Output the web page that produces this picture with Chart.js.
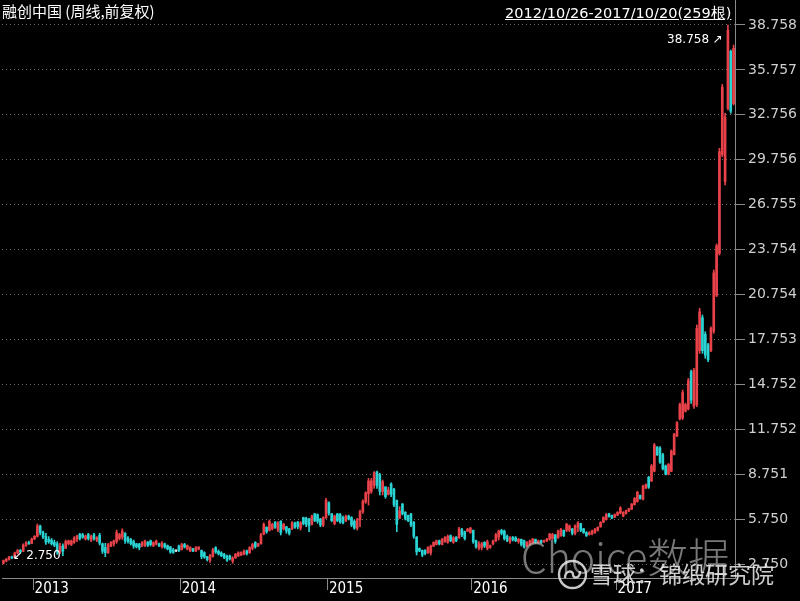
<!DOCTYPE html>
<html>
<head>
<meta charset="utf-8">
<title>融创中国 周线</title>
<script src="https://cdn.jsdelivr.net/npm/chart.js@4.4.0/dist/chart.umd.min.js"></script>
<style>
  html, body { margin: 0; padding: 0; background: #000; }
  #box { position: relative; width: 800px; height: 601px; overflow: hidden; background: #000; }
  #kline { position: absolute; left: 0; top: 0; }
  .txt { position: absolute; white-space: nowrap; pointer-events: none; line-height: 1; }
  #title { left: 2px; top: 3px; color: #fff; font-size: 15px; font-family: "Noto Sans CJK SC", sans-serif; }
  #range { left: 505px; top: 6px; color: #fff; font-size: 14.5px; font-family: "DejaVu Sans", sans-serif; text-decoration: underline; }
  #wm1 { left: 521px; top: 535px; color: rgba(200,200,200,0.6); font-size: 41px; font-weight: 300; font-family: "Noto Sans CJK SC", sans-serif; }
  #wm2 { left: 590px; top: 562px; color: rgba(240,240,240,0.85); font-size: 23px; font-family: "Noto Sans CJK SC", sans-serif; }
  #logo { position: absolute; left: 557px; top: 559px; }
</style>
</head>
<body>
<div id="box">
  <canvas id="kline" width="800" height="601"></canvas>
  <div class="txt" id="title">融创中国 (周线,前复权)</div>
  <div class="txt" id="range">2012/10/26-2017/10/20(259根)</div>
  <div class="txt" id="wm1">Choice数据</div>
  <svg id="logo" width="31" height="31" viewBox="0 0 31 31">
    <circle cx="15.5" cy="15.5" r="13.5" fill="none" stroke="rgba(235,235,235,0.85)" stroke-width="2.4"/>
    <path d="M8 19 C8 11 16 11 16 15.5 C16 20 23 20 23 12" fill="none" stroke="rgba(235,235,235,0.85)" stroke-width="2.4"/>
  </svg>
  <div class="txt" id="wm2">雪球：锦缎研究院</div>
</div>
<script>
// weekly candles, 2012/10/26 - 2017/10/20 (259 weeks)
const opens = [
  2.80,2.95,3.05,3.22,3.18,3.48,3.66,3.60,4.00,4.18,4.12,4.42,4.60,5.28,4.88,4.60,4.40,4.35,4.20,4.10,3.55,3.95,3.80,4.10,4.05,4.20,4.40,4.75,4.70,4.42,4.72,4.35,4.70,4.35,4.68,
  4.10,3.85,3.50,3.95,4.10,4.25,4.45,4.55,4.80,4.50,4.40,4.25,4.10,4.08,3.95,4.00,4.20,4.30,3.98,4.08,4.10,3.90,4.10,3.98,3.90,3.70,3.62,3.95,3.72,4.05,3.75,3.62,3.78,3.62,3.75,
  3.65,3.50,3.24,3.00,3.25,3.85,3.60,3.50,3.40,3.30,3.28,2.95,3.15,3.30,3.35,3.40,3.62,3.50,3.80,4.20,3.95,4.10,4.75,5.20,5.00,5.10,5.55,5.05,5.60,5.10,5.24,5.10,5.10,5.50,5.55,5.15,
  5.85,5.80,5.75,5.40,6.10,6.05,5.75,5.35,5.85,6.85,6.10,5.45,6.10,6.05,5.85,5.65,5.95,5.85,5.60,5.15,5.70,6.25,6.90,7.45,7.60,8.00,8.90,8.70,7.60,7.90,7.40,8.10,7.75,7.00,5.80,
  6.75,6.20,6.00,6.10,5.55,4.55,3.80,3.65,3.65,3.50,3.50,3.95,4.05,4.30,4.05,4.25,4.20,4.65,4.20,4.55,4.50,5.05,4.90,4.95,4.85,5.00,4.30,3.80,3.85,4.20,3.80,3.85,4.10,4.30,4.55,5.00,
  4.95,4.60,4.25,4.55,4.50,4.25,4.40,4.30,3.95,4.05,4.15,4.40,4.15,4.32,4.22,4.30,4.40,4.45,4.70,4.50,4.65,5.00,5.00,5.00,5.10,4.80,5.20,5.45,5.10,4.85,4.70,4.78,4.85,5.00,5.24,
  5.55,5.72,6.10,5.98,5.88,6.02,6.15,5.95,6.12,6.30,6.42,6.72,6.92,7.34,7.08,7.82,8.55,8.30,8.95,10.55,10.50,10.05,9.30,8.75,8.95,10.05,11.30,
  12.45,12.50,12.95,13.10,15.60,13.30,13.40,17.00,19.20,18.10,17.40,17.00,18.30,20.70,23.50,30.10,28.30,33.20,37.00,33.50
];
const highs = [
  3.02,3.12,3.26,3.28,3.55,3.72,3.72,4.10,4.25,4.28,4.48,4.65,5.42,5.35,4.95,4.80,4.58,4.46,4.35,4.24,4.13,4.10,4.35,4.35,4.35,4.58,4.69,4.80,4.80,4.69,4.80,4.69,4.80,4.58,4.80,
  4.15,4.13,4.13,4.24,4.35,5.02,4.80,5.10,4.85,4.58,4.46,4.35,4.13,4.13,4.24,4.35,4.26,4.35,4.24,4.35,4.15,4.24,4.15,4.02,3.91,3.80,3.69,4.02,4.13,4.13,4.02,3.91,3.80,3.91,3.91,
  3.69,3.57,3.26,3.40,3.80,3.91,3.69,3.57,3.46,3.35,3.35,3.24,3.46,3.57,3.57,3.69,3.69,3.91,4.13,4.24,4.13,4.80,5.50,5.24,5.69,5.47,5.58,5.58,5.65,5.47,5.26,5.13,5.58,5.55,5.60,5.58,
  5.88,5.88,5.80,6.02,6.13,6.10,5.80,5.91,7.14,6.91,6.13,6.02,6.13,6.13,5.95,6.02,6.02,5.91,5.69,5.80,6.36,7.03,7.58,8.47,8.47,8.92,8.95,8.81,8.36,7.92,7.88,8.18,7.80,7.03,6.58,
  6.80,6.25,6.02,6.13,5.58,4.58,3.82,3.69,3.72,3.91,4.02,4.24,4.35,4.35,4.46,4.58,4.69,4.69,4.58,4.58,5.20,5.13,4.95,5.13,5.20,5.02,4.35,4.24,4.20,4.24,4.35,4.02,4.35,4.80,5.02,5.07,
  5.02,4.69,4.58,4.58,4.58,4.46,4.42,4.35,4.24,4.35,4.46,4.42,4.35,4.35,4.35,4.46,4.80,4.80,4.72,5.02,5.13,5.02,5.47,5.36,5.13,5.36,5.58,5.47,5.13,4.91,4.91,5.02,5.13,5.24,5.58,
  5.91,6.13,6.13,6.02,6.10,6.25,6.58,6.25,6.36,6.47,6.80,7.20,7.60,7.36,8.03,8.10,8.60,9.40,10.81,10.60,10.59,10.14,9.36,9.47,10.37,11.48,12.26,
  13.50,14.37,13.50,15.15,15.71,15.82,18.72,19.83,19.38,18.27,17.49,18.60,22.39,24.13,30.52,34.79,32.86,38.758,37.09,37.42
];
const lows = [
  2.75,2.90,3.00,3.10,3.15,3.42,3.50,3.58,3.92,4.05,4.10,4.38,4.55,4.70,4.45,4.05,4.13,4.02,3.91,3.40,3.46,3.30,3.78,4.02,3.98,4.13,4.24,4.35,4.46,4.35,4.35,4.24,4.35,4.24,4.02,
  3.45,3.24,3.46,3.90,3.95,4.13,4.35,4.40,4.13,4.15,4.02,3.80,3.82,3.70,3.91,3.91,3.91,3.95,3.91,4.02,3.91,3.80,3.80,3.69,3.46,3.46,3.57,3.57,3.69,3.82,3.69,3.57,3.57,3.57,3.69,
  3.10,3.13,2.95,2.85,3.20,3.46,3.35,3.24,3.10,2.93,3.02,2.80,3.13,3.24,3.30,3.35,3.35,3.46,3.69,3.80,3.91,4.08,4.70,4.80,4.95,5.02,5.13,4.91,4.69,5.02,4.80,4.69,5.05,5.13,5.10,5.02,
  5.36,5.24,4.91,5.36,5.58,5.47,5.24,5.24,5.80,6.02,5.58,5.36,5.58,5.47,5.42,5.58,5.69,5.24,5.07,5.02,5.24,6.13,6.80,6.69,7.47,7.80,7.80,7.36,7.36,7.14,7.36,7.25,6.58,4.91,5.80,
  6.02,5.69,5.58,5.24,4.46,3.35,3.57,3.24,3.35,3.46,3.35,3.91,4.02,4.02,4.02,4.20,4.13,4.24,4.13,4.24,4.46,4.58,4.35,4.91,4.80,4.13,3.80,3.69,3.69,3.85,3.69,3.80,4.02,4.24,4.35,4.69,
  4.35,4.24,4.13,4.30,4.24,4.13,3.95,3.80,3.91,4.02,4.13,4.13,4.13,4.13,4.20,4.24,4.35,4.40,4.13,4.46,4.60,4.58,4.91,4.91,4.69,4.69,4.91,4.91,4.80,4.58,4.69,4.69,4.80,4.95,5.20,
  5.50,5.68,5.88,5.78,5.85,5.98,6.10,5.90,6.08,6.25,6.38,6.68,6.88,7.08,7.03,7.78,7.80,8.25,8.90,10.00,9.47,9.03,8.70,8.70,8.92,10.03,11.26,
  12.37,12.40,12.90,13.04,13.48,13.15,13.26,16.82,16.82,16.49,16.26,16.93,18.16,20.61,23.39,29.96,28.07,33.08,32.86,33.41
];
const closes = [
  2.98,3.08,3.22,3.15,3.50,3.66,3.56,4.02,4.18,4.10,4.42,4.60,5.30,4.85,4.55,4.20,4.25,4.10,4.00,3.60,3.95,3.60,4.25,4.30,4.28,4.50,4.62,4.45,4.55,4.62,4.45,4.60,4.45,4.52,4.15,
  3.60,3.50,4.05,4.20,4.30,4.85,4.72,4.95,4.30,4.25,4.10,3.95,3.90,3.85,4.18,4.30,4.00,4.05,4.18,4.30,3.98,4.15,3.88,3.75,3.55,3.52,3.62,3.65,4.05,3.88,3.98,3.85,3.62,3.85,3.88,
  3.25,3.20,3.05,3.30,3.70,3.55,3.42,3.30,3.18,3.00,3.10,3.15,3.40,3.50,3.52,3.62,3.45,3.85,4.05,3.90,4.10,4.70,5.40,4.90,5.60,5.40,5.20,5.50,4.85,5.40,4.95,4.80,5.50,5.20,5.25,5.50,
  5.45,5.40,5.30,5.95,5.65,5.60,5.35,5.85,7.00,6.15,5.65,5.95,5.65,5.55,5.50,5.95,5.75,5.35,5.15,5.70,6.25,6.95,7.50,8.30,8.30,8.85,8.00,7.60,8.25,7.25,7.70,7.40,6.70,5.40,6.30,
  6.10,5.80,5.65,5.35,4.60,3.55,3.62,3.35,3.45,3.85,3.95,4.20,4.30,4.10,4.40,4.52,4.60,4.30,4.50,4.30,5.10,4.70,4.45,5.08,5.15,4.25,3.90,4.10,4.10,3.95,4.25,3.98,4.30,4.70,4.95,4.80,
  4.45,4.30,4.50,4.38,4.30,4.40,4.05,3.88,4.18,4.30,4.42,4.18,4.30,4.18,4.32,4.42,4.75,4.72,4.25,4.95,5.05,4.65,5.40,5.30,4.80,5.30,5.50,5.00,4.85,4.65,4.85,4.95,5.05,5.20,5.52,
  5.85,6.05,5.92,5.82,6.05,6.20,6.50,6.20,6.32,6.45,6.75,7.12,7.55,7.12,7.95,8.05,7.88,9.30,10.70,10.05,9.55,9.10,8.75,9.40,10.30,11.40,12.20,
  13.40,14.20,13.40,15.00,13.70,15.70,18.50,19.60,17.00,16.70,16.40,18.50,22.20,24.00,30.30,34.60,32.60,38.40,33.00,37.20
];

// right axis labels
const yTicks = [2.750, 5.750, 8.751, 11.752, 14.752, 17.753, 20.754, 23.754, 26.755, 29.756, 32.756, 35.757, 38.758];
// first week of each year on the bottom axis
const yearLabels = ['2013', '2014', '2015', '2016', '2017'];
const yearIndex = [11, 63, 115, 166, 217];

const UP = '#e8424a';
const DOWN = '#2ad3d3';
const FLAT = '#e6e6e6';
const colors = closes.map((c, i) => c > opens[i] ? UP : (c < opens[i] ? DOWN : FLAT));
const labels = closes.map((_, i) => i);

// max / min markers
const markers = {
  id: 'markers',
  afterDatasetsDraw(chart) {
    const { ctx, scales: { x, y } } = chart;
    const hi = Math.max(...highs), hiIdx = highs.indexOf(hi);
    const lo = Math.min(...lows), loIdx = lows.indexOf(lo);
    ctx.save();
    ctx.fillStyle = '#ffffff';
    ctx.font = '12px "DejaVu Sans"';
    ctx.textBaseline = 'middle';
    ctx.textAlign = 'right';
    ctx.fillText(hi.toFixed(3) + ' \u2197', x.getPixelForValue(hiIdx) - 5, y.getPixelForValue(hi) + 15);
    ctx.textAlign = 'left';
    ctx.fillText('\u2199 ' + lo.toFixed(3), x.getPixelForValue(loIdx) + 9, y.getPixelForValue(lo) - 8);
    ctx.restore();
  }
};

new Chart(document.getElementById('kline'), {
  type: 'bar',
  data: {
    labels: labels,
    datasets: [{
      // wicks
      data: lows.map((l, i) => [l, highs[i]]),
      backgroundColor: colors,
      barThickness: 1,
      grouped: false,
      borderWidth: 0
    }, {
      // bodies
      data: opens.map((o, i) => [o, closes[i]]),
      backgroundColor: colors,
      barThickness: 2,
      minBarLength: 1,
      grouped: false,
      borderWidth: 0
    }]
  },
  options: {
    responsive: false,
    animation: false,
    layout: { padding: { left: 2, top: 0, right: 0, bottom: 0 } },
    plugins: {
      legend: { display: false },
      tooltip: { enabled: false }
    },
    scales: {
      x: {
        offset: true,
        grid: {
          offset: true,
          drawOnChartArea: false,
          drawTicks: true,
          tickLength: 12,
          tickColor: (c) => yearIndex.includes(c.index) ? '#8a8a8a' : 'rgba(0,0,0,0)'
        },
        border: { display: true, color: '#8a8a8a', width: 1 },
        ticks: {
          autoSkip: false,
          maxRotation: 0,
          minRotation: 0,
          align: 'start',
          padding: -10,
          color: '#ffffff',
          font: { family: 'DejaVu Sans Condensed', size: 15 },
          callback: (v, i) => {
            const k = yearIndex.indexOf(i);
            return k >= 0 ? yearLabels[k] : '';
          }
        },
        afterFit: (s) => { s.height = 23; s.paddingLeft = 0; s.paddingRight = 0; }
      },
      y: {
        position: 'right',
        min: 1.815,
        max: 40.428,
        afterBuildTicks: (s) => { s.ticks = yTicks.map(v => ({ value: v })); },
        grid: {
          color: '#6a6a6a',
          lineWidth: 1,
          tickColor: '#8a8a8a',
          tickLength: 10,
          tickBorderDash: []
        },
        border: { display: true, color: '#8a8a8a', width: 1, dash: [1, 3] },
        ticks: {
          padding: 3,
          color: '#cfcfcf',
          font: { family: 'DejaVu Sans', size: 14 },
          callback: (v) => Number(v).toFixed(3)
        },
        afterFit: (s) => { s.width = 65; s.paddingTop = 0; s.paddingBottom = 0; }
      }
    }
  },
  plugins: [markers]
});
</script>
</body>
</html>
